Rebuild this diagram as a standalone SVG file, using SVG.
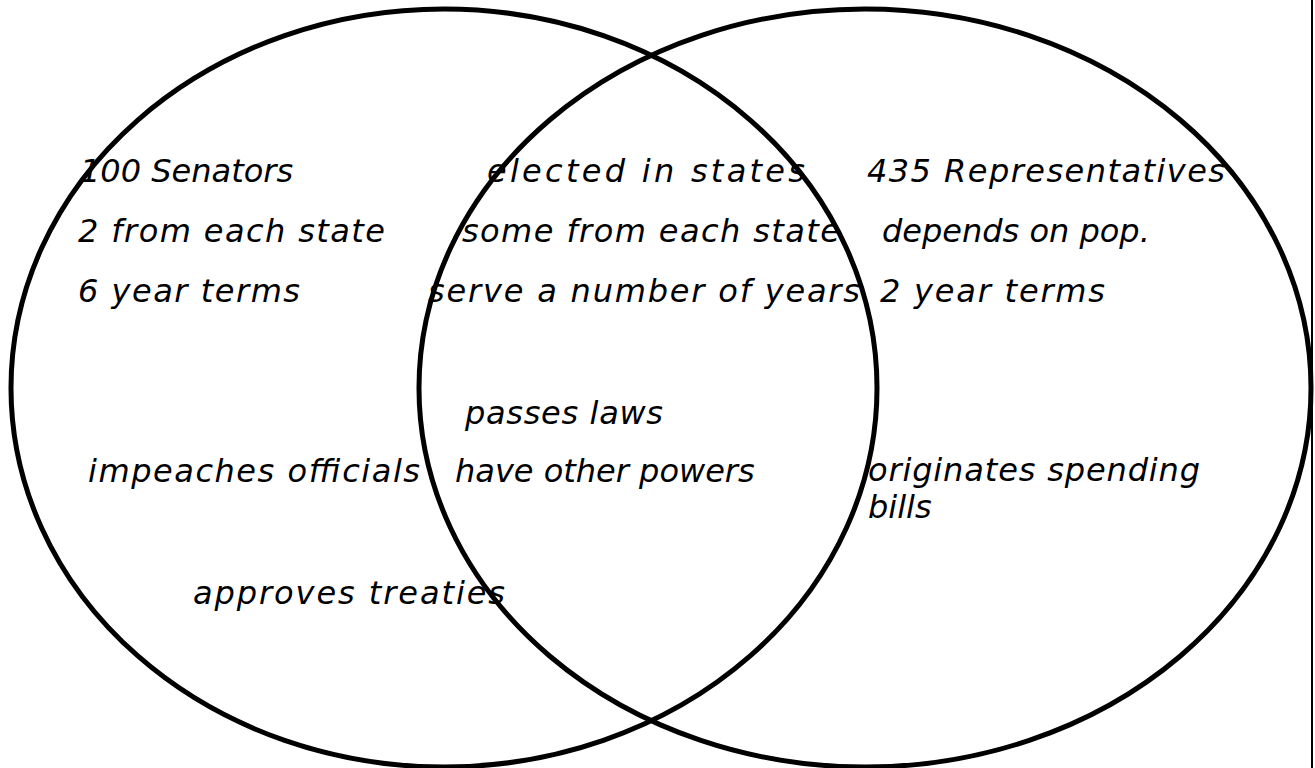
<svg xmlns="http://www.w3.org/2000/svg" width="1315" height="768" viewBox="0 0 1315 768">
<style>
.ring{fill:none;stroke:#000;stroke-width:5}
.t{font-family:"DejaVu Sans","Liberation Sans",sans-serif;font-style:italic;font-size:32px;fill:#000}
</style>
<rect x="0" y="0" width="1315" height="768" fill="#fff"/>
<line x1="1312" y1="0" x2="1312" y2="768" stroke="#000" stroke-width="2"/>
<g id="senate">
<ellipse class="ring" cx="444" cy="388" rx="433" ry="379"/>
<text class="t" x="80" y="182">100 Senators</text>
<text class="t" x="78" y="242" textLength="307" lengthAdjust="spacing">2 from each state</text>
<text class="t" x="78" y="302" textLength="222" lengthAdjust="spacing">6 year terms</text>
<text class="t" x="88" y="482" textLength="332" lengthAdjust="spacing">impeaches officials</text>
<text class="t" x="193" y="604" textLength="312" lengthAdjust="spacing">approves treaties</text>
</g>
<g id="house">
<ellipse class="ring" cx="865" cy="388" rx="446" ry="379"/>
<text class="t" x="867" y="182" textLength="358" lengthAdjust="spacing">435 Representatives</text>
<text class="t" x="882" y="242">depends on pop.</text>
<text class="t" x="880" y="302" textLength="225" lengthAdjust="spacing">2 year terms</text>
<text class="t" x="868" y="481" textLength="332" lengthAdjust="spacing">originates spending</text>
<text class="t" x="868" y="518">bills</text>
</g>
<g id="both">
<text class="t" x="487" y="182" textLength="318" lengthAdjust="spacing">elected in states</text>
<text class="t" x="462" y="242" textLength="378" lengthAdjust="spacing">some from each state</text>
<text class="t" x="428" y="302" textLength="432" lengthAdjust="spacing">serve a number of years</text>
<text class="t" x="465" y="424" textLength="198" lengthAdjust="spacing">passes laws</text>
<text class="t" x="455" y="482">have other powers</text>
</g>
<g id="connectors"></g>
</svg>
